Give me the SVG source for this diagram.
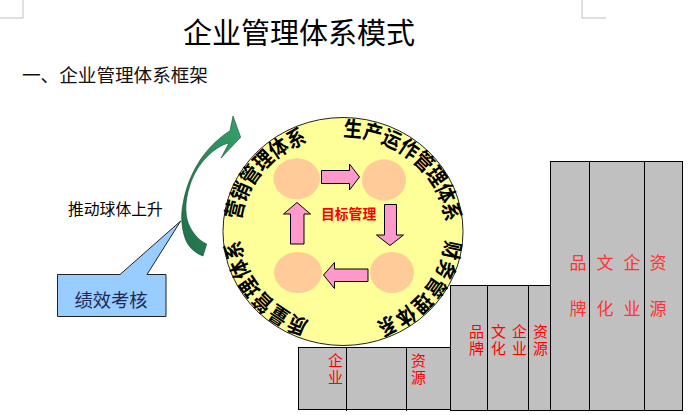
<svg xmlns="http://www.w3.org/2000/svg" width="689" height="415" viewBox="0 0 689 415">
<style>
text{font-family:"Noto Sans CJK SC","Liberation Sans",sans-serif}
.corner{fill:none;stroke:#c0c0c0;stroke-width:1}
.ring text{font-size:19px;font-weight:700;fill:#000;text-anchor:middle}
.dot{fill:#ffcc99}
.pink{fill:#ff99cc;stroke:#000;stroke-width:1}
.box{fill:#c0c0c0;stroke:#000;stroke-width:1}
.rs{fill:#f00;font-size:15px;writing-mode:vertical-rl;letter-spacing:1.5px}
.rb{fill:#f33;font-size:17px;writing-mode:vertical-rl;letter-spacing:29px}
</style>
<defs>
<linearGradient id="g" x1="0" y1="1" x2="1" y2="0"><stop offset="0" stop-color="#1f6f48"/><stop offset="1" stop-color="#36a06c"/></linearGradient>
</defs>
<rect width="689" height="415" fill="#fff"/>
<path class="corner" d="M0 18H23V0M606 18H582V0"/>
<text id="title" x="183" y="44" font-size="29" fill="#000">企业管理体系模式</text>
<text id="subtitle" x="22" y="82" font-size="18.6" fill="#111">一、企业管理体系框架</text>
<g id="blocks">
<g id="block-low"><rect class="box" x="298.5" y="347.5" width="152" height="62"/><path class="box" d="M346.500 347.5V411M406.500 347.5V411"/>
<text class="rs" x="335.5" y="353">企业</text><text class="rs" x="418.5" y="353">资源</text></g>
<g id="block-mid"><rect class="box" x="450.5" y="285.5" width="100" height="125"/><path class="box" d="M487.5 285.5V410M528.5 285.5V410"/>
<text class="rs" x="476.5" y="324">品牌</text><text class="rs" x="498.5" y="324">文化</text><text class="rs" x="519.5" y="324">企业</text><text class="rs" x="540.5" y="324">资源</text></g>
<g id="block-high"><rect class="box" x="550.5" y="161.5" width="132" height="249"/><path class="box" d="M589.5 161.5V410M644.5 161.5V410"/>
<text class="rb" x="578" y="254">品牌</text><text class="rb" x="605" y="254">文化</text><text class="rb" x="632" y="254">企业</text><text class="rb" x="658" y="254">资源</text></g>
</g>
<g id="sphere">
<ellipse cx="343" cy="231.5" rx="120" ry="114" fill="#ffff99" stroke="#222" stroke-width="1"/>
<g class="ring" id="ring-production">
<text transform="translate(352.4 136.9) rotate(4.8) scale(.98 1.12)">生</text>
<text transform="translate(371 140.1) rotate(14.6) scale(.98 1.12)">产</text>
<text transform="translate(388.6 146.3) rotate(24.4) scale(.98 1.12)">运</text>
<text transform="translate(404.6 155.4) rotate(34.5) scale(.98 1.12)">作</text>
<text transform="translate(418.6 167) rotate(44.9) scale(.98 1.12)">管</text>
<text transform="translate(430.1 180.8) rotate(55.6) scale(.98 1.12)">理</text>
<text transform="translate(438.7 196.3) rotate(66.6) scale(.98 1.12)">体</text>
<text transform="translate(444 213) rotate(77.8) scale(.98 1.12)">系</text>
</g>
<g class="ring" id="ring-finance">
<text transform="translate(444.2 249) rotate(101.5) scale(.98 1.12)">财</text>
<text transform="translate(438.7 266.7) rotate(113.4) scale(.98 1.12)">务</text>
<text transform="translate(429.5 283.1) rotate(125.1) scale(.98 1.12)">管</text>
<text transform="translate(417 297.6) rotate(136.4) scale(.98 1.12)">理</text>
<text transform="translate(401.7 309.5) rotate(147.4) scale(.98 1.12)">体</text>
<text transform="translate(384.2 318.6) rotate(158.1) scale(.98 1.12)">系</text>
</g>
<g class="ring" id="ring-quality">
<text transform="translate(300.3 318) rotate(202.8) scale(.98 1.12)">质</text>
<text transform="translate(283.2 308.8) rotate(213.3) scale(.98 1.12)">量</text>
<text transform="translate(268.3 296.9) rotate(224.2) scale(.98 1.12)">管</text>
<text transform="translate(256.1 282.5) rotate(235.4) scale(.98 1.12)">理</text>
<text transform="translate(247.2 266.3) rotate(246.9) scale(.98 1.12)">体</text>
<text transform="translate(241.7 248.8) rotate(258.6) scale(.98 1.12)">系</text>
</g>
<g class="ring" id="ring-marketing">
<text transform="translate(242.3 211.3) rotate(-76.8) scale(.98 1.12)">营</text>
<text transform="translate(248 194.8) rotate(-65.6) scale(.98 1.12)">销</text>
<text transform="translate(256.9 179.4) rotate(-54.6) scale(.98 1.12)">管</text>
<text transform="translate(268.6 165.8) rotate(-43.9) scale(.98 1.12)">理</text>
<text transform="translate(282.8 154.4) rotate(-33.6) scale(.98 1.12)">体</text>
<text transform="translate(299.1 145.6) rotate(-23.5) scale(.98 1.12)">系</text>
</g>
</g>
<g id="step-tl"><ellipse class="dot" cx="296.7" cy="178.7" rx="23.3" ry="20.5"/></g>
<g id="step-tr"><ellipse class="dot" cx="384" cy="180" rx="22" ry="20.7"/></g>
<g id="step-bl"><ellipse class="dot" cx="298" cy="272.5" rx="24" ry="20.5"/></g>
<g id="step-br"><ellipse class="dot" cx="392" cy="272.5" rx="22" ry="20.5"/></g>
<g id="connectors">
<polygon class="pink" points="321.5,170.5 349.5,170.5 349.5,164 359.5,177 349.5,190 349.5,183.5 321.5,183.5"/>
<polygon class="pink" points="384.5,204.5 396.5,204.5 396.5,235 403.5,235 390,245.5 376.5,235 384.5,235"/>
<polygon class="pink" points="368,269 334.5,269 334.5,262.5 323.5,275 334.5,288.5 334.5,281.5 368,281.5"/>
<polygon class="pink" points="290.5,244 304,244 304,214 310.5,214 297,202.5 283.5,214 290.5,214"/>
</g>
<g id="goal"><text x="321" y="219" font-size="13.8" font-weight="700" fill="#f00">目标管理</text></g>
<g id="push-arrow">
<path d="M233 116L240.7 137.3L221 158L229 143C215 146 197 163 190 185C184 203 185 218 190 227C194 235 200 241 206.7 244L203 256C195 253 188 247 185 238C181 226 181 214 183 204C187 180 200 150 230 130.7Z" fill="url(#g)" stroke="#14492f" stroke-width=".6"/>
</g>
<g id="push-label"><text x="68" y="215" font-size="15.8" fill="#000">推动球体上升</text></g>
<g id="kpi">
<path d="M57.5 274.5H120L180.7 221L147 274.5H166V316.5H57.5Z" fill="#99ccff" stroke="#222" stroke-width="1"/>
<text x="74.500" y="307" font-size="18.3" fill="#1c2a55">绩效考核</text>
</g>
</svg>
